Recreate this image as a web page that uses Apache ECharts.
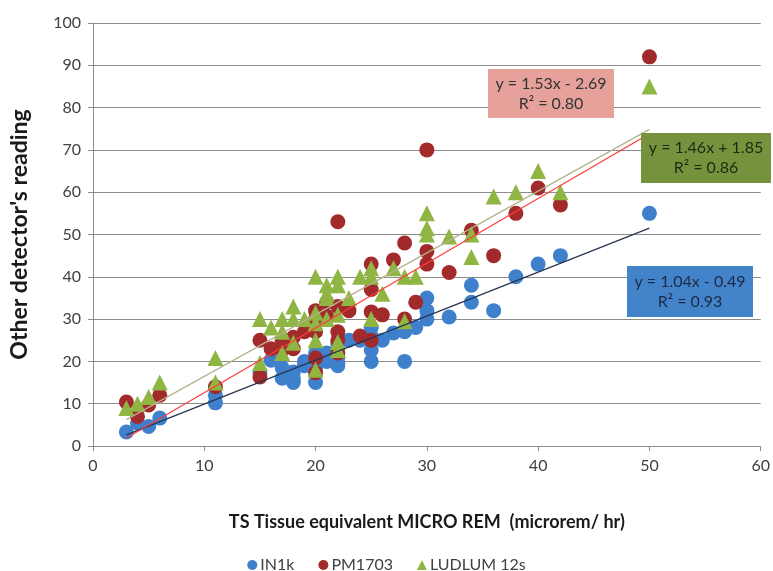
<!DOCTYPE html>
<html>
<head>
<meta charset="utf-8">
<script src="https://cdn.jsdelivr.net/npm/echarts@6/dist/echarts.min.js"></script>
<style>html,body{margin:0;padding:0;background:#fff}#c{width:773px;height:571px}</style>
</head>
<body>
<div id="c"></div>
<script>
var seriesNames = ['IN1k', 'PM1703', 'LUDLUM 12s'];
var in1kData = [[3,3.3],[4,5.4],[5,4.6],[6,6.6],[11,10.2],[11,12],[15,17.3],[16,20.3],[17,18.5],[17,16],[18,15],[18,16],[18,17.5],[19,20],[19,19],[20,18.5],[20,15],[20,20],[20,22],[21,22],[21,20],[21,21],[22,21],[22,19.6],[22,19],[22,24],[23,25],[24,25],[25,20],[25,22.7],[25,26],[25,28],[26,25],[27,26.7],[28,27],[28,20],[29,28],[30,30],[30,32],[30,35],[32,30.5],[34,34],[34,38],[36,32],[38,40],[40,43],[42,45],[50,55]];
var pm1703Data = [[3,10.4],[4,7],[5,9.7],[6,12],[11,14],[15,25],[15,16.3],[16,23],[17,22.7],[17,25],[18,23],[18,25.7],[19,27],[20,32],[20,30],[20,27],[20,20.8],[20,17.3],[21,30.7],[21,34],[22,53],[22,33],[22,27],[22,22],[22,25],[23,32],[24,26],[25,43],[25,37],[25,31.7],[25,25],[26,31],[27,44],[28,48],[28,30],[29,34],[30,70],[30,46],[30,43],[32,41],[34,51],[36,45],[38,55],[40,61],[42,57],[50,92]];
var ludlumData = [[3,9],[4,10],[5,11.6],[6,15],[11,20.8],[11,15],[15,30],[15,19.6],[16,28],[17,30],[17,27],[17,22],[18,33],[18,30],[18,24.4],[19,30],[20,40],[20,31.5],[20,29],[20,25],[20,18],[21,38],[21,35],[21,36],[21,30],[22,40],[22,38],[22,31],[22,24.6],[22,22.7],[23,35],[24,40],[25,42],[25,40],[25,30],[26,36],[27,42],[28,40],[28,29.5],[29,40],[30,55],[30,51.5],[30,50],[32,49.5],[34,50],[34,44.7],[36,59],[38,60],[40,65],[42,60],[50,85]];
var trendSlopes = [1.04, 1.53, 1.46];
var trendIntercepts = [-0.49, -2.69, 1.85];
var trendRange = [3, 50];
var trendLabels = [['y = 1.04x - 0.49', 'R² = 0.93'], ['y = 1.53x - 2.69', 'R² = 0.80'], ['y = 1.46x + 1.85', 'R² = 0.86']];
var xTicks = [0, 10, 20, 30, 40, 50, 60];
var yTicks = [0, 10, 20, 30, 40, 50, 60, 70, 80, 90, 100];

var FONT = 'Lato, "Open Sans", sans-serif';
var markerColors = ['#3f80cc', '#a32a2b', '#8fb542'];
var lineColors = ['#27344f', '#ff3b3b', '#b5b28c'];

function trend(i) {
  return trendRange.map(function (x) { return [x, trendSlopes[i] * x + trendIntercepts[i]]; });
}

var chart = echarts.init(document.getElementById('c'));
var scatterData = [in1kData, pm1703Data, ludlumData];
var symbols = ['circle', 'circle', 'triangle'];
var series = [];
for (var i = 0; i < 3; i++) {
  series.push({
    name: seriesNames[i], type: 'scatter', data: scatterData[i],
    symbol: symbols[i], symbolSize: i === 2 ? 16 : 15,
    itemStyle: { color: markerColors[i], opacity: 1 }, z: 2 + i
  });
}
for (var j = 0; j < 3; j++) {
  series.push({
    name: 'trend' + j, type: 'line', data: trend(j), showSymbol: false, symbol: 'none',
    lineStyle: { color: lineColors[j], width: 1.2 }, z: 10, silent: true
  });
}

function box(lines, cx, top, w, h, bg, fg) {
  return {
    type: 'group', left: cx - w / 2, top: top, z: 200,
    children: [
      { type: 'rect', z: 200, shape: { x: 0, y: 0, width: w, height: h }, style: { fill: bg } },
      { type: 'text', z: 201, x: w / 2, y: h / 2, style: { text: lines.join('\n'), fill: fg, font: '16px ' + FONT, align: 'center', verticalAlign: 'middle', lineHeight: 20 } }
    ]
  };
}

chart.setOption({
  animation: false,
  backgroundColor: '#fff',
  grid: { left: 91, right: 7, top: 23, bottom: 125, containLabel: false },
  xAxis: {
    type: 'value', min: 0, max: 60, interval: 10,
    name: 'TS Tissue equivalent MICRO REM  (microrem/ hr)', nameLocation: 'middle', nameGap: 67,
    nameTextStyle: { fontFamily: FONT, fontWeight: 'bold', fontSize: 18, color: '#1a1a1a' },
    axisLine: { show: true, lineStyle: { color: '#8c8c8c' } },
    axisTick: { show: true, length: 5, lineStyle: { color: '#8c8c8c' } },
    axisLabel: { fontFamily: FONT, fontSize: 16, color: '#404040', margin: 12 },
    splitLine: { show: false }
  },
  yAxis: {
    type: 'value', min: 0, max: 100, interval: 10,
    name: "Other detector's reading", nameLocation: 'middle', nameGap: 62, nameRotate: 90,
    nameTextStyle: { fontFamily: FONT, fontWeight: 'bold', fontSize: 23, color: '#1a1a1a' },
    axisLine: { show: true, lineStyle: { color: '#8c8c8c' } },
    axisTick: { show: true, length: 5, lineStyle: { color: '#8c8c8c' } },
    axisLabel: { fontFamily: FONT, fontSize: 16, color: '#404040', margin: 12 },
    splitLine: { show: true, lineStyle: { color: '#8c8c8c', width: 1 } }
  },
  legend: {
    data: [
      { name: seriesNames[0], icon: 'circle' },
      { name: seriesNames[1], icon: 'circle' },
      { name: seriesNames[2], icon: 'triangle' }
    ],
    top: 552, left: 'center', itemWidth: 10, itemHeight: 10, itemGap: 24,
    textStyle: { fontFamily: FONT, fontSize: 16, color: '#404040', padding: [0, 0, 0, -2] }
  },
  graphic: [
    box(trendLabels[1], 551, 69, 126, 49, '#e6a19b', '#333333'),
    box(trendLabels[2], 706, 133, 130, 50, '#76923c', '#1f2a14'),
    box(trendLabels[0], 690, 266, 126, 51, '#4383c9', '#1c2a44')
  ],
  series: series
});
</script>
</body>
</html>
